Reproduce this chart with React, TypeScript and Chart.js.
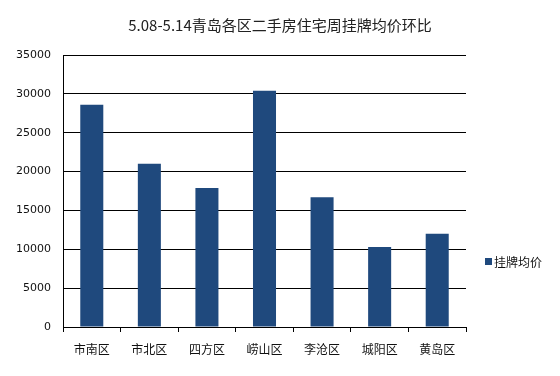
import React, { useEffect, useRef } from "react";
import { Chart, registerables } from "chart.js";

Chart.register(...registerables);

const TITLE = "5.08-5.14青岛各区二手房住宅周挂牌均价环比";
const SERIES_NAME = "挂牌均价";
const categories = ["市南区", "市北区", "四方区", "崂山区", "李沧区", "城阳区", "黄岛区"];
const values = [28600, 21000, 17900, 30400, 16700, 10300, 12000];
const yTicks = [0, 5000, 10000, 15000, 20000, 25000, 30000, 35000];

const BAR_COLOR = "#1F497D";
const CJK = '"Microsoft YaHei", "Noto Sans CJK SC", sans-serif';

const overlay = {
  id: "overlay",
  afterDraw(chart: any) {
    const ctx = chart.ctx;
    ctx.save();
    ctx.fillStyle = "#222";
    ctx.font = `15px ${CJK}`;
    ctx.textAlign = "center";
    ctx.textBaseline = "middle";
    ctx.fillText(TITLE, 280, 25);
    // legend
    const lx = 485;
    const ly = 262;
    ctx.fillStyle = BAR_COLOR;
    ctx.fillRect(lx, ly - 4, 7, 7);
    ctx.fillStyle = "#111";
    ctx.font = `12px ${CJK}`;
    ctx.textAlign = "left";
    ctx.fillText(SERIES_NAME, lx + 9, ly);
    ctx.restore();
  },
};

export default function App() {
  const ref = useRef<HTMLCanvasElement>(null);
  useEffect(() => {
    const chart = new Chart(ref.current!, {
      type: "bar",
      data: {
        labels: categories,
        datasets: [
          {
            label: SERIES_NAME,
            data: values,
            backgroundColor: BAR_COLOR,
            borderWidth: 0,
            barPercentage: 0.8,
            categoryPercentage: 0.5,
          },
        ],
      },
      options: {
        animation: false,
        responsive: false,
        layout: { padding: { left: 0, right: 94, top: 55, bottom: 0 } },
        plugins: { legend: { display: false }, title: { display: false }, tooltip: { enabled: false } },
        scales: {
          x: {
            offset: true,
            afterFit: (s: any) => {
              s.height = 49;
            },
            grid: {
              offset: true,
              drawOnChartArea: false,
              drawTicks: true,
              tickLength: 5,
              color: "#000",
            },
            border: { color: "#000", width: 1 },
            ticks: {
              color: "#111",
              font: { family: CJK, size: 12 },
              padding: 10,
              maxRotation: 0,
              autoSkip: false,
            },
          },
          y: {
            min: 0,
            max: 35000,
            afterFit: (s: any) => {
              s.width = 63;
            },
            afterBuildTicks: (s: any) => {
              s.ticks = yTicks.map((v) => ({ value: v }));
            },
            grid: { color: "#000", drawTicks: false, lineWidth: 1 },
            border: { color: "#000", width: 1 },
            ticks: {
              color: "#111",
              font: { family: '"DejaVu Sans", Verdana, sans-serif', size: 11 },
              padding: 12,
              callback: (v: any) => String(v),
            },
          },
        },
      },
      plugins: [overlay],
    });
    return () => chart.destroy();
  }, []);
  return (
    <div style={{ position: "absolute", left: 0, top: 0, width: 560, height: 376, background: "#fff" }}>
      <canvas ref={ref} width={560} height={376} />
    </div>
  );
}
